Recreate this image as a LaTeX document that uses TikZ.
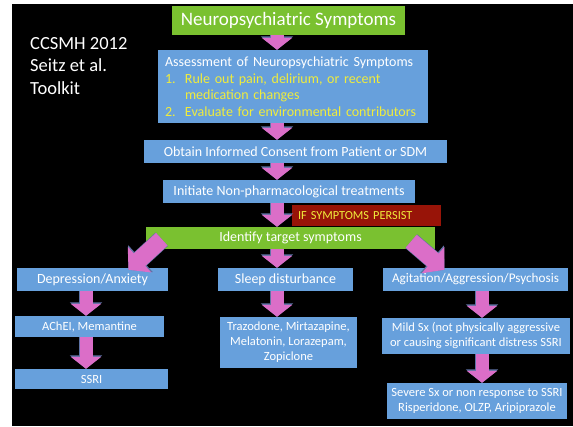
\documentclass[tikz,border=0pt]{standalone}
\usepackage{fontspec}
\setmainfont{Carlito}
\usetikzlibrary{arrows.meta,calc}

\definecolor{boxblue}{RGB}{103,160,220}
\definecolor{boxgreen}{RGB}{122,193,48}
\definecolor{arrowpink}{RGB}{219,110,200}
\definecolor{arrowedge}{RGB}{95,115,165}
\definecolor{alertred}{RGB}{152,20,8}
\definecolor{hiyellow}{RGB}{240,236,60}

\begin{document}
\begin{tikzpicture}[
    x=1pt, y=-1pt,
    box/.style={fill=boxblue, text=white, inner sep=0pt, align=center, font=\fontsize{14}{16}\selectfont},
    gbox/.style={box, fill=boxgreen},
    small/.style={font=\fontsize{12.5}{15}\selectfont},
    barrow/.style={preaction={draw=arrowedge, line width=14.2pt, -{Triangle[width=31.6pt,length=13.4pt]}},
        draw=arrowpink, line width=13pt, -{Triangle[width=30pt,length=12pt]}},
    darrow/.style={preaction={draw=arrowedge, line width=18.2pt, -{Triangle[width=35.6pt,length=16.4pt]}},
        draw=arrowpink, line width=17pt, -{Triangle[width=34pt,length=15pt]}}
]
    \useasboundingbox (0,0) rectangle (573,426);
    \fill[black] (12,4) rectangle (573,426);

    % x positions of the vertical arrows
    \coordinate (spine) at (277,0);
    \coordinate (colL) at (86,0);
    \coordinate (colM) at (277,0);
    \coordinate (colR) at (482,0);

    % Source note
    \node[text=white, anchor=north west, align=left, inner sep=0pt, font=\fontsize{18.5}{22.5}\selectfont] (source) at (30,37) {CCSMH 2012\\Seitz et al.\\Toolkit};

    % Main chain
    \node[gbox, minimum width=233pt, minimum height=29pt, font=\fontsize{19}{22}\selectfont] (title) at (288.5,20.5) {Neuropsychiatric Symptoms};
    \node[box, minimum width=270pt, minimum height=73pt, text width=256pt, align=left, font=\fontsize{14}{16.5}\selectfont] (assess) at (293,86.5) {Assessment of Neuropsychiatric Symptoms\\
        \textcolor{hiyellow}{\makebox[20pt][l]{1.}Rule out pain, delirium, or recent}\\
        \hspace*{20pt}\textcolor{hiyellow}{medication changes}\\
        \textcolor{hiyellow}{\makebox[20pt][l]{2.}Evaluate for environmental contributors}};
    \node[box, minimum width=303pt, minimum height=23pt] (consent) at (295.5,151.5) {Obtain Informed Consent from Patient or SDM};
    \node[box, minimum width=252pt, minimum height=23pt] (nonpharm) at (289,191.5) {Initiate Non-pharmacological treatments};
    \node[fill=alertred, text=hiyellow, inner sep=0pt, inner xsep=6pt, text width=137pt, align=left, minimum height=21pt, font=\fontsize{12.3}{14}\selectfont] (persist) at (366.5,215.5) {IF SYMPTOMS PERSIST};
    \node[gbox, minimum width=289pt, minimum height=22pt] (ident) at (290.5,238) {Identify target symptoms};

    % Symptom groups
    \node[box, minimum width=151pt, minimum height=23pt] (depr) at (92.5,279.5) {Depression/Anxiety};
    \node[box, minimum width=135pt, minimum height=23pt] (sleep) at (285.5,279.5) {Sleep disturbance};
    \node[box, minimum width=185pt, minimum height=23pt, font=\fontsize{13.2}{16}\selectfont] (agit) at (475.5,279.5) {Agitation/Aggression/Psychosis};

    % Treatments
    \node[box, small, minimum width=149pt, minimum height=21pt] (achei) at (89.5,326.5) {AChEI, Memantine};
    \node[box, small, minimum width=153pt, minimum height=20pt] (ssri) at (91.5,379) {SSRI};
    \node[box, small, minimum width=137pt, minimum height=51pt] (traz) at (288.5,342.5) {Trazodone, Mirtazapine,\\Melatonin, Lorazepam,\\Zopiclone};
    \node[box, small, minimum width=188pt, minimum height=36pt] (mild) at (476,336) {Mild Sx (not physically aggressive\\or causing significant distress SSRI};
    \node[box, small, minimum width=180pt, minimum height=36pt] (severe) at (477,401) {Severe Sx or non response to SSRI\\Risperidone, OLZP, Aripiprazole};

    % Arrows
    \draw[barrow] (spine |- title.south) -- (spine |- assess.north);
    \draw[barrow] (spine |- assess.south) -- (spine |- consent.north);
    \draw[barrow] (spine |- consent.south) -- (spine |- nonpharm.north);
    \draw[barrow] (spine |- nonpharm.south) -- (spine |- ident.north);
    \draw[darrow] ($(ident.south west)+(16,-10)$) -- ($(depr.north)+(36,2)$);
    \draw[barrow] (colM |- ident.south) -- (colM |- sleep.north);
    \draw[darrow] ($(ident.south east)+(-24,-8)$) -- ($(agit.north)+(-31,2)$);

    \draw[barrow] (colL |- depr.south) -- (colL |- achei.north);
    \draw[barrow] (colL |- achei.south) -- (colL |- ssri.north);
    \draw[barrow] (colM |- sleep.south) -- (colM |- traz.north);
    \draw[barrow] (colR |- agit.south) -- (colR |- mild.north);
    \draw[barrow] (colR |- mild.south) -- (colR |- severe.north);
\end{tikzpicture}
\end{document}
